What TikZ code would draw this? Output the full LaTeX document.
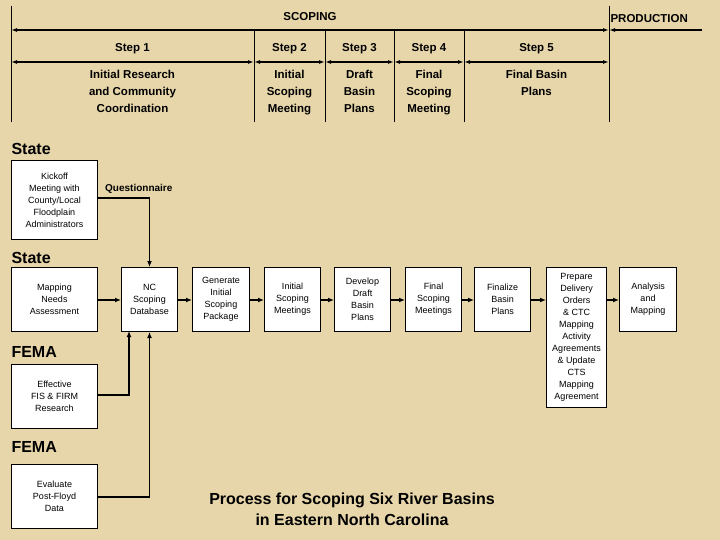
\documentclass[tikz,border=0pt]{standalone}
\usepackage{fontspec}
\setmainfont{Liberation Sans}
\usetikzlibrary{arrows.meta,positioning}
\definecolor{paper}{RGB}{231,214,170}

\begin{document}
\begin{tikzpicture}[x=1pt,y=-1pt,
  box/.style={draw,fill=white,line width=1pt,minimum width=57pt,minimum height=64pt,
    inner sep=1pt,align=center,font=\fontsize{9}{12}\selectfont,anchor=north west},
  lane/.style={font=\fontsize{16}{18}\selectfont\bfseries,anchor=west},
  steptext/.style={font=\fontsize{11.5}{17}\selectfont\bfseries,align=center},
  flow/.style={line width=1.3pt,-{Latex[length=6pt,width=5pt]}},
  span/.style={line width=1.5pt,{Latex[length=6pt,width=4pt]}-{Latex[length=6pt,width=4pt]}},
  tick/.style={line width=0.6pt}]
\fill[paper] (0,0) rectangle (720,540);
\useasboundingbox (0,0) rectangle (720,540);

% phase dividers
\foreach \name/\xx/\ytop in {da/11/6,db/254/30,dc/325/30,dd/394/30,de/464/30,df/609/6}
  {\coordinate (\name t) at (\xx,\ytop); \coordinate (\name b) at (\xx,122);
   \draw[tick] (\name t) -- (\name b);
   \coordinate (\name s) at (\xx,30); \coordinate (\name m) at (\xx,62);}
\coordinate (prodend) at (702,30);
\draw[span] (das) -- (dfs) node[midway,above=5pt,steptext]{SCOPING};
\draw[line width=1.5pt,{Latex[length=6pt,width=4pt]}-] (dfs) -- (prodend);
\node[steptext,anchor=west] (prod) at (607,19) {PRODUCTION};

% steps
\foreach \a/\b/\s/\txt in {da/db/1/{Initial Research\\and Community\\Coordination},
    db/dc/2/{Initial\\Scoping\\Meeting},dc/dd/3/{Draft\\Basin\\Plans},
    dd/de/4/{Final\\Scoping\\Meeting},de/df/5/{Final Basin\\Plans}}
  {\draw[span] (\a m) -- (\b m) node[midway,above=4pt,steptext]{Step \s}
     node[midway,below=4pt,steptext,anchor=north]{\txt};}

% lanes
\node[lane] (state1) at (8,149) {State};
\node[lane] (state2) at (8,258) {State};
\node[lane] (fema1) at (8,352) {FEMA};
\node[lane] (fema2) at (8,447) {FEMA};

% boxes
\node[box,minimum width=86pt,minimum height=79pt] (kick) at (11,160) {Kickoff\\Meeting with\\County/Local\\Floodplain\\Administrators};
\node[box,minimum width=86pt] (needs) at (11,267) {Mapping\\Needs\\Assessment};
\node[box,minimum width=86pt] (fis) at (11,364) {Effective\\FIS \& FIRM\\Research};
\node[box,minimum width=86pt] (floyd) at (11,464) {Evaluate\\Post-Floyd\\Data};
\node[box,minimum width=56pt] (ncdb) at (121,267) {NC\\Scoping\\Database};
\node[box] (gen) at (192,267) {Generate\\Initial\\Scoping\\Package};
\node[box,minimum width=56pt] (initm) at (264,267) {Initial\\Scoping\\Meetings};
\node[box,minimum width=56pt] (draft) at (334,267) {Develop\\Draft\\Basin\\Plans};
\node[box,minimum width=56pt] (finm) at (405,267) {Final\\Scoping\\Meetings};
\node[box,minimum width=56pt] (finz) at (474,267) {Finalize\\Basin\\Plans};
\node[box,minimum width=60pt,minimum height=140pt] (prep) at (546,267) {Prepare\\Delivery\\Orders\\\& CTC\\Mapping\\Activity\\Agreements\\\& Update\\CTS\\Mapping\\Agreement};
\node[box,minimum width=57pt] (anal) at (619,267) {Analysis\\and\\Mapping};

% connectors
\coordinate (qstart) at (97,198);
\coordinate (row) at (0,300);
\coordinate (fisout) at (97,395);
\coordinate (floydout) at (97,497);
\coordinate (fisin) at (129,331);
\node[anchor=south west,font=\fontsize{10}{12}\selectfont\bfseries,inner sep=2pt] (quest) at (103,196) {Questionnaire};
\draw[flow] (qstart) -| (ncdb.north);
\foreach \a/\b in {needs/ncdb,ncdb/gen,gen/initm,initm/draft,draft/finm,finm/finz,finz/prep,prep/anal}
  \draw[flow] (\a.east|-row) -- (\b.west|-row);
\draw[flow] (fisout) -| (fisin);
\draw[flow] (floydout) -| (ncdb.south);

% title
\node[font=\fontsize{16}{21}\selectfont\bfseries,align=center] (title) at (352,509)
  {Process for Scoping Six River Basins\\in Eastern North Carolina};
\end{tikzpicture}
\end{document}
